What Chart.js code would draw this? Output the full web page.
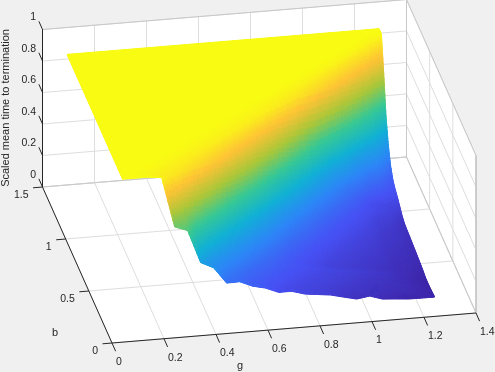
<!DOCTYPE html>
<html>
<head>
<meta charset="utf-8">
<style>
  html, body { margin: 0; padding: 0; background: #f0f0f0; }
  canvas { display: block; }
</style>
<script src="https://cdn.jsdelivr.net/npm/chart.js@4"></script>
</head>
<body>
<canvas id="surface-canvas" width="495" height="372"></canvas>
<script>
// axes
const gTicks = [0, 0.2, 0.4, 0.6, 0.8, 1, 1.2, 1.4];
const bTicks = [0, 0.5, 1, 1.5];
const zTicks = [0, 0.2, 0.4, 0.6, 0.8, 1];

// surface grid
const gValues = [0.05, 0.1, 0.15, 0.2, 0.25, 0.3, 0.35, 0.4, 0.45, 0.5, 0.55, 0.6, 0.65, 0.7, 0.75, 0.8, 0.85, 0.9, 0.95, 1, 1.05, 1.1, 1.15, 1.2, 1.25];
const bValues = [0.05, 0.1, 0.15, 0.2, 0.25, 0.3, 0.35, 0.4, 0.45, 0.5, 0.55, 0.6, 0.65, 0.7, 0.75, 0.8, 0.85, 0.9, 0.95, 1, 1.05, 1.1, 1.15, 1.2, 1.25];
const zRows = [
  [1, 1, 1, .99, .67, .64, .43, .39, .286, .288, .253, .234, .2, .2, .176, .166, .156, .136, .117, .129, .103, .097, .09, .089, .089],
  [1, 1, .99, .97, .95, .72, .53, .39, .33, .28, .25, .23, .21, .19, .18, .17, .16, .145, .135, .127, .12, .11, .105, .095, .085],
  [1, 1, 1, .99, .97, .94, .69, .5, .385, .32, .275, .245, .225, .21, .19, .18, .17, .158, .145, .134, .126, .118, .11, .097, .082],
  [1, 1, 1, 1, .99, .97, .92, .67, .49, .38, .32, .27, .245, .225, .205, .19, .178, .168, .157, .144, .133, .125, .11, .095, .08],
  [1, 1, 1, 1, 1, .99, .97, .9, .66, .48, .375, .315, .27, .24, .22, .205, .19, .176, .167, .156, .143, .132, .115, .1, .082],
  [1, 1, 1, 1, 1, 1, .99, .97, .88, .63, .47, .37, .31, .258, .229, .206, .187, .17, .157, .147, .136, .125, .114, .104, .09],
  [1, 1, 1, 1, 1, 1, 1, .99, .97, .85, .61, .45, .36, .296, .252, .224, .202, .181, .166, .154, .144, .133, .118, .11, .096],
  [1, 1, 1, 1, 1, 1, 1, 1, .99, .97, .83, .6, .44, .344, .285, .242, .215, .196, .177, .162, .15, .14, .125, .114, .1],
  [1, 1, 1, 1, 1, 1, 1, 1, 1, .99, .97, .81, .59, .416, .331, .278, .237, .21, .189, .174, .159, .146, .129, .118, .105],
  [1, 1, 1, 1, 1, 1, 1, 1, 1, 1, .99, .97, .79, .55, .396, .314, .267, .227, .206, .185, .169, .154, .133, .123, .109],
  [1, 1, 1, 1, 1, 1, 1, 1, 1, 1, 1, .99, .97, .76, .526, .382, .306, .256, .222, .199, .18, .164, .14, .131, .113],
  [1, 1, 1, 1, 1, 1, 1, 1, 1, 1, 1, 1, .99, .97, .74, .503, .363, .294, .246, .214, .193, .175, .148, .135, .117],
  [1, 1, 1, 1, 1, 1, 1, 1, 1, 1, 1, 1, 1, .985, .96, .7, .472, .345, .283, .236, .208, .188, .159, .14, .12],
  [1, 1, 1, 1, 1, 1, 1, 1, 1, 1, 1, 1, 1, 1, .985, .95, .67, .45, .331, .271, .226, .199, .17, .157, .125],
  [1, 1, 1, 1, 1, 1, 1, 1, 1, 1, 1, 1, 1, 1, 1, .985, .94, .63, .42, .318, .26, .217, .193, .174, .14],
  [1, 1, 1, 1, 1, 1, 1, 1, 1, 1, 1, 1, 1, 1, 1, 1, .985, .92, .6, .396, .305, .249, .196, .182, .165],
  [1, 1, 1, 1, 1, 1, 1, 1, 1, 1, 1, 1, 1, 1, 1, 1, 1, .985, .9, .6, .42, .31, .25, .22, .19],
  [1, 1, 1, 1, 1, 1, 1, 1, 1, 1, 1, 1, 1, 1, 1, 1, 1, 1, .985, .875, .59, .4, .31, .26, .21],
  [1, 1, 1, 1, 1, 1, 1, 1, 1, 1, 1, 1, 1, 1, 1, 1, 1, 1, 1, .985, .855, .61, .41, .335, .235],
  [1, 1, 1, 1, 1, 1, 1, 1, 1, 1, 1, 1, 1, 1, 1, 1, 1, 1, 1, 1, .985, .83, .59, .435, .29],
  [1, 1, 1, 1, 1, 1, 1, 1, 1, 1, 1, 1, 1, 1, 1, 1, 1, 1, 1, 1, 1, .985, .81, .58, .39],
  [1, 1, 1, 1, 1, 1, 1, 1, 1, 1, 1, 1, 1, 1, 1, 1, 1, 1, 1, 1, 1, 1, .985, .79, .54],
  [1, 1, 1, 1, 1, 1, 1, 1, 1, 1, 1, 1, 1, 1, 1, 1, 1, 1, 1, 1, 1, 1, 1, .98, .78],
  [1, 1, 1, 1, 1, 1, 1, 1, 1, 1, 1, 1, 1, 1, 1, 1, 1, 1, 1, 1, 1, 1, 1, 1, 1],
  [1, 1, 1, 1, 1, 1, 1, 1, 1, 1, 1, 1, 1, 1, 1, 1, 1, 1, 1, 1, 1, 1, 1, 1, 1],
];

// parula, 8 stops
const parula = [
  [62, 38, 168], [72, 82, 244], [46, 135, 247], [18, 177, 214],
  [55, 200, 151], [171, 199, 57], [254, 195, 56], [249, 251, 21],
];

const GRID = "#dedede";
const EDGE = "#c8c8c8";
const AXIS = "#262626";
const TICK_FONT = "10.5px 'Liberation Sans'";
const TITLE_FONT = "11px 'Liberation Sans'";

const gMax = 1.4;
const bMax = 1.5;

// the view is orthographic, so three axis vectors are enough
const project = (g, b, z) => ({
  x: 112 + g * 260 - b * 46.33,
  y: 343 - g * 21.43 - b * 104 - z * 157.5,
});

const lineSet = (points, color, order, width = 1) => ({
  data: points.map(([g, b, z]) => project(g, b, z)),
  showLine: true,
  pointRadius: 0,
  borderColor: color,
  borderWidth: width,
  order: order,
});

const paneSet = (points) => ({
  data: points.map(([g, b, z]) => project(g, b, z)),
  showLine: true,
  pointRadius: 0,
  borderWidth: 0,
  backgroundColor: "#ffffff",
  fill: "shape",
  order: 5,
});

const tickEnd = (p, dx, dy) => ({ x: p.x + dx, y: p.y + dy });

const tickSet = (p, dx, dy) => ({
  data: [p, tickEnd(p, dx, dy)],
  showLine: true,
  pointRadius: 0,
  borderColor: AXIS,
  borderWidth: 1,
  order: 1,
});

const buildSets = () => {
  const sets = [
    paneSet([[0, bMax, 0], [gMax, bMax, 0], [gMax, bMax, 1], [0, bMax, 1]]),
    paneSet([[gMax, 0, 0], [gMax, bMax, 0], [gMax, bMax, 1], [gMax, 0, 1]]),
    paneSet([[0, 0, 0], [gMax, 0, 0], [gMax, bMax, 0], [0, bMax, 0]]),
  ];
  gTicks.forEach((g) => {
    sets.push(lineSet([[g, 0, 0], [g, bMax, 0], [g, bMax, 1]], GRID, 3));
  });
  bTicks.forEach((b) => {
    sets.push(lineSet([[0, b, 0], [gMax, b, 0], [gMax, b, 1]], GRID, 3));
  });
  zTicks.forEach((z) => {
    sets.push(lineSet([[0, bMax, z], [gMax, bMax, z], [gMax, 0, z]], GRID, 3));
  });
  sets.push(lineSet([[0, bMax, 1], [gMax, bMax, 1], [gMax, 0, 1], [gMax, 0, 0], [gMax, bMax, 0], [gMax, bMax, 1]], EDGE, 2));
  sets.push(lineSet([[0, bMax, 0], [gMax, bMax, 0]], EDGE, 2));
  sets.push(lineSet([[0, bMax, 1], [0, bMax, 0], [0, 0, 0], [gMax, 0, 0]], AXIS, 1));
  gTicks.forEach((g) => sets.push(tickSet(project(g, 0, 0), 3.6, 8.2)));
  bTicks.forEach((b) => sets.push(tickSet(project(0, b, 0), -9.5, 0.8)));
  zTicks.forEach((z) => sets.push(tickSet(project(0, bMax, z), -3.6, -8.2)));

  // surface nodes, painted by the plugin below
  const nodes = [];
  bValues.forEach((b, j) => {
    gValues.forEach((g, i) => nodes.push(project(g, b, zRows[j][i])));
  });
  sets.push({ label: "surface", data: nodes, pointRadius: 0, showLine: false, order: 9 });
  return sets;
};

const zLow = Math.min(...zRows.flat());

const colorFor = (z) => {
  const c = Math.max(0, Math.min(1, (z - zLow) / (1 - zLow))) * (parula.length - 1);
  const k = Math.min(Math.floor(c), parula.length - 2);
  const t = c - k;
  const mix = parula[k].map((v, n) => Math.round(v + (parula[k + 1][n] - v) * t));
  return `rgb(${mix[0]},${mix[1]},${mix[2]})`;
};

// each cell is two flat triangles, split along its diagonal
const inCell = (a, b, c, d, u, v) =>
  u >= v ? a + u * (b - a) + v * (d - b) : a + v * (c - a) + u * (d - c);

const surfacePlugin = {
  id: "surface",
  afterDatasetsDraw(chart) {
    const ctx = chart.ctx;
    const index = chart.data.datasets.findIndex((d) => d.label === "surface");
    const els = chart.getDatasetMeta(index).data;
    const n = gValues.length;
    const steps = 8;
    const at = (i, j, u, v) => {
      const a = els[j * n + i];
      const b = els[j * n + i + 1];
      const c = els[(j + 1) * n + i];
      const d = els[(j + 1) * n + i + 1];
      return {
        x: inCell(a.x, b.x, c.x, d.x, u, v),
        y: inCell(a.y, b.y, c.y, d.y, u, v),
      };
    };
    const zAt = (i, j, u, v) =>
      inCell(zRows[j][i], zRows[j][i + 1], zRows[j + 1][i], zRows[j + 1][i + 1], u, v);
    const paint = (corners, color) => {
      ctx.beginPath();
      corners.forEach((p, q) => (q ? ctx.lineTo(p.x, p.y) : ctx.moveTo(p.x, p.y)));
      ctx.closePath();
      ctx.fillStyle = color;
      ctx.strokeStyle = color;
      ctx.fill();
      ctx.stroke();
    };
    ctx.save();
    ctx.lineJoin = "round";
    for (let j = n - 2; j >= 0; j--) {
      for (let i = 0; i < n - 1; i++) {
        // wide pass first, so the seams of the thin pass show a near colour
        [1, 0.3].forEach((width) => {
          ctx.lineWidth = width;
          for (let sv = steps - 1; sv >= 0; sv--) {
            for (let su = 0; su < steps; su++) {
              const u0 = su / steps;
              const u1 = (su + 1) / steps;
              const v0 = sv / steps;
              const v1 = (sv + 1) / steps;
              paint(
                [at(i, j, u0, v0), at(i, j, u1, v0), at(i, j, u1, v1), at(i, j, u0, v1)],
                colorFor(zAt(i, j, (u0 + u1) / 2, (v0 + v1) / 2))
              );
            }
          }
        });
      }
    }
    ctx.restore();
  },
};

const textPlugin = {
  id: "axisText",
  afterDraw(chart) {
    const ctx = chart.ctx;
    const sx = chart.scales.x;
    const sy = chart.scales.y;
    const put = (text, p, dx, dy, align) => {
      ctx.textAlign = align;
      ctx.fillText(text, sx.getPixelForValue(p.x) + dx, sy.getPixelForValue(p.y) + dy);
    };
    ctx.save();
    ctx.font = TICK_FONT;
    ctx.fillStyle = AXIS;
    ctx.textBaseline = "middle";
    gTicks.forEach((g) => put(String(g), project(g, 0, 0), 4, 19, "left"));
    bTicks.forEach((b) => put(String(b), project(0, b, 0), -14, 8, "right"));
    zTicks.forEach((z) => put(String(z), project(0, bMax, z), -6.5, -12, "right"));
    ctx.font = TITLE_FONT;
    ctx.textAlign = "center";
    ctx.fillText("g", 240, 366);
    ctx.fillText("b", 55, 333);
    ctx.translate(6, 108);
    ctx.rotate(-Math.PI / 2);
    ctx.fillText("Scaled mean time to termination", 0, 0);
    ctx.restore();
  },
};

new Chart(document.getElementById("surface-canvas"), {
  type: "scatter",
  data: { datasets: buildSets() },
  plugins: [surfacePlugin, textPlugin],
  options: {
    responsive: false,
    animation: false,
    layout: { padding: 0 },
    plugins: {
      legend: { display: false },
      tooltip: { enabled: false },
    },
    scales: {
      x: { type: "linear", min: 0, max: 495, display: false },
      y: { type: "linear", min: 0, max: 372, reverse: true, display: false },
    },
  },
});
</script>
</body>
</html>
